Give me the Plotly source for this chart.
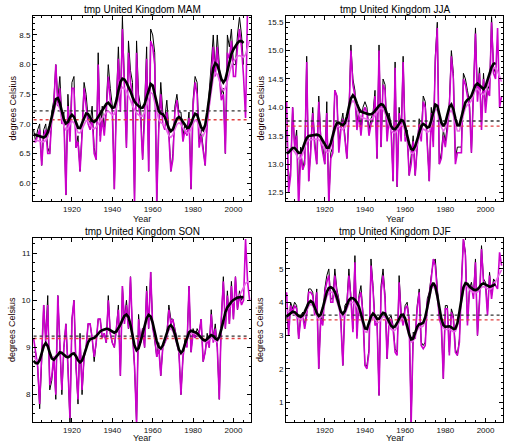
import plotly.graph_objects as go
import numpy as np

# years of the two series
years_black = list(range(1901, 2006))
years_magenta = list(range(1901, 2009))

seasons = ["MAM", "JJA", "SON", "DJF"]

mam_black = [6.9, 6.7, 6.9, 7.0, 6.3, 6.9, 7.0, 6.6, 6.5, 7.2,
             7.4, 8.0, 7.4, 7.8, 7.1, 7.2, 5.8, 7.5, 6.8, 7.7,
             7.8, 6.6, 6.8, 6.2, 6.9, 7.7, 7.5, 7.1, 7.0, 7.3,
             6.6, 6.4, 8.2, 6.8, 7.3, 6.9, 7.3, 8.0, 7.6, 7.3,
             5.9, 7.4, 8.3, 7.3, 8.8, 7.7, 6.6, 8.4, 7.9, 7.7,
             5.7, 8.4, 7.5, 7.3, 6.4, 7.3, 8.3, 6.2, 8.6, 8.5,
             8.2, 5.7, 7.0, 7.7, 7.2, 7.1, 7.4, 6.9, 6.2, 6.5,
             7.3, 7.5, 7.2, 7.2, 6.8, 7.0, 6.9, 7.2, 5.9, 7.4,
             7.8, 7.7, 6.7, 6.9, 6.6, 6.3, 7.1, 7.5, 8.0, 8.5,
             7.9, 8.5, 8.0, 7.5, 7.6, 6.5, 8.5, 8.3, 8.6, 8.0,
             8.0, 8.5, 8.8, 8.5, 8.0]
mam_magenta = [6.7, 6.7, 6.8, 6.9, 6.3, 6.8, 6.9, 6.5, 6.5, 7.1,
               7.3, 8.0, 7.3, 7.6, 7.0, 7.1, 5.8, 7.3, 6.7, 7.6,
               7.6, 6.6, 6.7, 6.2, 6.8, 7.6, 7.3, 7.0, 6.9, 7.1,
               6.5, 6.4, 8.0, 6.7, 7.1, 6.8, 7.2, 7.8, 7.4, 7.2,
               5.9, 7.3, 8.1, 7.2, 8.6, 7.5, 6.6, 8.2, 7.7, 7.5,
               5.7, 8.2, 7.3, 7.1, 6.4, 7.1, 8.1, 6.2, 8.4, 8.3,
               8.0, 5.7, 6.9, 7.5, 7.0, 6.9, 7.2, 6.8, 6.2, 6.4,
               7.2, 7.4, 7.1, 7.1, 6.7, 6.9, 6.8, 7.1, 5.9, 7.3,
               7.7, 7.5, 6.6, 6.8, 6.5, 6.3, 7.0, 7.3, 7.8, 8.3,
               7.8, 8.3, 7.8, 7.4, 7.5, 6.5, 8.2, 8.1, 8.4, 7.8,
               7.8, 8.3, 8.6, 8.3, 7.8, 7.1, 9.0, 8.9]

jja_black = [13.6, 12.6, 12.9, 14.0, 13.3, 13.6, 12.5, 13.3, 12.9, 13.1,
             14.9, 12.7, 13.3, 14.0, 13.4, 13.0, 14.2, 13.5, 13.3, 13.0,
             14.1, 12.3, 13.2, 13.3, 14.3, 14.2, 13.3, 13.7, 13.9, 13.5,
             13.1, 13.9, 15.1, 14.5, 14.3, 13.7, 14.0, 13.6, 14.0, 14.1,
             14.0, 13.6, 13.8, 13.9, 14.3, 13.1, 15.1, 13.3, 14.5, 14.4,
             13.5, 13.9, 13.7, 12.7, 14.8, 12.6, 14.0, 13.5, 14.9, 13.5,
             13.6, 12.8, 13.1, 13.5, 12.8, 13.4, 13.8, 13.5, 14.2, 14.1,
             13.4, 12.7, 14.0, 13.4, 14.9, 15.5, 13.0, 13.2, 13.6, 13.4,
             13.7, 14.1, 15.0, 14.6, 13.1, 13.3, 13.3, 13.3, 14.6, 14.5,
             14.3, 14.1, 13.2, 14.4, 15.4, 14.2, 14.7, 13.7, 14.6, 14.0,
             14.4, 14.3, 15.6, 14.7, 14.6]
jja_magenta = [14.1, 12.5, 12.8, 14.0, 13.3, 13.5, 12.2, 13.2, 12.9, 13.0,
               14.8, 12.7, 13.2, 13.9, 13.3, 13.0, 14.1, 13.4, 13.2, 13.0,
               13.9, 12.3, 13.1, 13.2, 14.3, 14.2, 13.2, 13.6, 13.8, 13.4,
               13.1, 13.8, 15.0, 14.4, 14.2, 13.6, 13.9, 13.5, 13.9, 14.0,
               13.9, 13.5, 13.7, 13.8, 14.2, 13.1, 15.0, 13.3, 14.4, 14.3,
               13.4, 13.8, 13.6, 12.7, 14.7, 12.6, 13.9, 13.4, 14.8, 13.4,
               13.5, 12.8, 13.0, 13.4, 12.8, 13.3, 13.7, 13.4, 14.1, 14.0,
               13.3, 12.7, 13.9, 13.3, 14.8, 15.4, 13.0, 13.1, 13.5, 13.3,
               13.6, 14.0, 14.9, 14.5, 13.0, 13.2, 13.2, 13.2, 14.5, 14.4,
               14.2, 14.0, 13.2, 14.3, 15.3, 14.1, 14.6, 13.6, 14.5, 13.9,
               14.3, 14.2, 15.5, 14.6, 14.5, 15.4, 14.0, 14.2]

son_black = [8.9, 8.9, 8.6, 7.7, 8.7, 9.9, 9.2, 10.1, 8.1, 8.3,
             8.8, 7.9, 10.1, 9.2, 8.0, 9.0, 9.5, 8.6, 7.4, 9.6,
             10.0, 8.6, 7.8, 9.3, 8.0, 8.8, 9.0, 9.5, 9.5, 9.2,
             8.7, 9.1, 9.6, 9.6, 9.2, 9.3, 9.1, 10.1, 9.3, 9.1,
             9.0, 9.4, 9.9, 8.4, 10.3, 9.6, 10.0, 9.4, 10.5, 9.3,
             8.6, 7.4, 9.7, 9.1, 9.4, 9.0, 10.3, 9.4, 10.6, 9.5,
             9.2, 8.8, 9.1, 8.4, 9.0, 9.1, 9.3, 9.9, 9.6, 9.6,
             9.4, 9.2, 8.9, 8.0, 8.8, 9.2, 9.1, 10.3, 8.9, 9.4,
             9.2, 9.4, 9.3, 9.6, 8.7, 8.9, 9.3, 9.0, 9.8, 9.2,
             9.5, 9.0, 7.9, 9.6, 10.5, 9.4, 10.2, 9.5, 10.4, 9.6,
             10.5, 9.8, 10.2, 10.0, 10.1]
son_magenta = [9.2, 8.9, 8.6, 7.8, 8.7, 9.9, 9.1, 9.9, 8.2, 8.4,
               8.8, 8.0, 10.1, 9.1, 8.1, 9.0, 9.5, 8.6, 7.5, 9.6,
               10.0, 8.6, 7.9, 9.2, 8.1, 8.8, 9.0, 9.5, 9.5, 9.2,
               8.8, 9.1, 9.6, 9.6, 9.2, 9.3, 9.1, 10.0, 9.3, 9.1,
               9.0, 9.4, 9.8, 8.4, 10.3, 9.5, 9.9, 9.4, 10.5, 9.3,
               8.6, 7.4, 9.6, 9.1, 9.4, 9.0, 10.2, 9.4, 10.6, 9.4,
               9.2, 8.8, 9.0, 8.4, 9.0, 9.1, 9.2, 9.8, 9.5, 9.6,
               9.3, 9.1, 8.9, 8.0, 8.8, 9.1, 9.0, 10.3, 8.9, 9.3,
               9.2, 9.3, 9.3, 9.6, 8.7, 8.9, 9.2, 9.0, 9.7, 9.1,
               9.4, 9.0, 7.9, 9.6, 10.4, 9.4, 10.1, 9.5, 10.3, 9.6,
               10.5, 9.8, 10.1, 9.9, 10.0, 11.3, 10.4, 10.0]

djf_black = [3.6, 3.1, 4.0, 3.8, 4.0, 3.9, 2.9, 3.6, 3.7, 3.3,
             3.7, 4.4, 4.4, 4.3, 3.7, 4.4, 2.0, 3.6, 3.4, 4.4,
             4.8, 5.0, 4.1, 4.1, 5.0, 4.4, 4.1, 3.5, 2.1, 3.9,
             4.0, 5.0, 4.2, 3.2, 5.4, 3.0, 4.2, 4.5, 3.7, 2.1,
             2.1, 2.6, 5.3, 4.5, 3.4, 3.5, 1.2, 4.5, 5.0, 4.2,
             2.3, 3.5, 3.6, 3.3, 2.6, 2.5, 4.8, 3.7, 3.4, 3.9,
             4.0, 3.5, 0.4, 3.1, 3.0, 3.9, 4.4, 2.8, 2.7, 2.8,
             4.1, 4.3, 4.8, 5.2, 5.3, 4.3, 3.6, 3.4, 1.7, 3.9,
             3.9, 2.5, 3.8, 3.6, 2.6, 2.4, 2.9, 4.6, 5.9, 5.5,
             3.4, 4.4, 4.6, 4.2, 5.3, 3.0, 4.1, 5.7, 4.7, 4.6,
             3.7, 4.9, 4.2, 4.7, 4.6]
djf_magenta = [4.3, 3.0, 3.9, 3.7, 3.9, 3.8, 2.9, 3.5, 3.6, 3.2,
               3.6, 4.3, 4.3, 4.2, 3.6, 4.3, 2.0, 3.5, 3.3, 4.3,
               4.6, 4.8, 4.0, 4.0, 4.8, 4.3, 4.0, 3.4, 2.1, 3.8,
               3.9, 4.8, 4.1, 3.1, 5.2, 2.9, 4.1, 4.3, 3.6, 2.1,
               2.0, 2.5, 5.1, 4.4, 3.3, 3.4, 1.2, 4.3, 4.8, 4.1,
               2.3, 3.4, 3.5, 3.2, 2.5, 2.4, 4.6, 3.6, 3.3, 3.8,
               3.9, 3.4, 0.4, 3.0, 2.9, 3.8, 4.3, 2.7, 2.6, 2.7,
               4.0, 4.2, 4.7, 5.3, 5.1, 4.2, 3.5, 3.3, 1.7, 3.8,
               3.8, 2.4, 3.7, 3.5, 2.5, 2.4, 2.8, 4.5, 5.9, 5.4,
               3.3, 4.3, 4.5, 4.1, 5.2, 3.0, 4.0, 5.6, 4.6, 4.5,
               3.6, 4.8, 4.1, 4.6, 4.5, 4.4, 5.5, 5.1]

# long-term means shown as dotted lines (black series, magenta series)
means_black = [7.22, 13.76, 9.24, 3.61]
means_magenta = [7.07, 13.67, 9.19, 3.47]

y_ranges = [[5.70, 8.82], [12.35, 15.61], [7.42, 11.32], [0.40, 5.93]]
y_dticks = [0.5, 0.5, 1, 1]
y_formats = [".1f", ".1f", "d", "d"]
y_minor = [0.1, 0.1, 0.2, 0.2]

black_data = [mam_black, jja_black, son_black, djf_black]
magenta_data = [mam_magenta, jja_magenta, son_magenta, djf_magenta]


def smooth(v, sigma=2.0):
    v = np.asarray(v, float)
    n = len(v)
    k = np.arange(-8, 9)
    w = np.exp(-0.5 * (k / sigma) ** 2)
    out = np.empty(n)
    for i in range(n):
        idx = i + k
        m = (idx >= 0) & (idx < n)
        out[i] = np.sum(w[m] * v[idx[m]]) / np.sum(w[m])
    return out


W, H = 518, 442
x_doms = [[33 / W, 251 / W], [286 / W, 503 / W]]
y_doms = [[1 - 201 / H, 1 - 16 / H], [1 - 422 / H, 1 - 238 / H]]

MAG = "#cc00cc"
MAG_LIGHT = "#e866e8"
font = "Liberation Sans, Arial, sans-serif"

fig = go.Figure()
layout = dict(width=W, height=H, margin=dict(l=0, r=0, t=0, b=0),
              paper_bgcolor="white", plot_bgcolor="white", showlegend=False,
              annotations=[])

for i, s in enumerate(seasons):
    xa = "x" if i == 0 else "x%d" % (i + 1)
    ya = "y" if i == 0 else "y%d" % (i + 1)
    xd = x_doms[i % 2]
    yd = y_doms[i // 2]
    x0, x1 = years_magenta[0], years_magenta[-1]

    fig.add_trace(go.Scatter(x=years_black, y=black_data[i], mode="lines",
                             line=dict(color="black", width=1), xaxis=xa, yaxis=ya))
    fig.add_trace(go.Scatter(x=years_magenta, y=magenta_data[i], mode="lines",
                             line=dict(color=MAG, width=1.6), xaxis=xa, yaxis=ya))
    fig.add_trace(go.Scatter(x=[x0, x1], y=[means_black[i]] * 2, mode="lines",
                             line=dict(color="#333333", width=1.3, dash="dot"),
                             xaxis=xa, yaxis=ya))
    fig.add_trace(go.Scatter(x=[x0, x1], y=[means_magenta[i]] * 2, mode="lines",
                             line=dict(color="#e04040", width=1.3, dash="dot"),
                             xaxis=xa, yaxis=ya))
    fig.add_trace(go.Scatter(x=years_magenta, y=smooth(magenta_data[i]), mode="lines",
                             line=dict(color=MAG_LIGHT, width=1.6), xaxis=xa, yaxis=ya))
    fig.add_trace(go.Scatter(x=years_black, y=smooth(black_data[i]), mode="lines",
                             line=dict(color="black", width=2.6), xaxis=xa, yaxis=ya))

    axis_common = dict(showline=True, linecolor="black", linewidth=1, mirror="ticks",
                       ticks="inside", ticklen=4, tickcolor="black", showgrid=False,
                       zeroline=False,
                       tickfont=dict(family=font, size=8, color="#111111"))
    layout["xaxis" if i == 0 else "xaxis%d" % (i + 1)] = dict(
        axis_common, domain=xd, anchor=ya, range=[1900.7, 2008.7],
        tick0=1920, dtick=20, minor=dict(dtick=5, ticklen=2, ticks="inside"))
    layout["yaxis" if i == 0 else "yaxis%d" % (i + 1)] = dict(
        axis_common, domain=yd, anchor=xa, range=y_ranges[i],
        dtick=y_dticks[i], tickformat=y_formats[i],
        minor=dict(dtick=y_minor[i], ticklen=2, ticks="inside"))

    xc = (xd[0] + xd[1]) / 2
    year_gap = 11 if i < 2 else 9
    layout["annotations"].append(dict(
        text="tmp United Kingdom " + s, x=xc, y=yd[1] - 1 / H, xref="paper", yref="paper",
        xanchor="center", yanchor="bottom", showarrow=False,
        font=dict(family=font, size=10, color="black")))
    layout["annotations"].append(dict(
        text="Year", x=xc, y=yd[0] - year_gap / H, xref="paper", yref="paper",
        xanchor="center", yanchor="top", showarrow=False,
        font=dict(family=font, size=9, color="#111111")))
    layout["annotations"].append(dict(
        text="degrees Celsius", x=xd[0] - (21 if i % 2 == 0 else 26) / W,
        y=(yd[0] + yd[1]) / 2, xref="paper", yref="paper", textangle=-90,
        xanchor="center", yanchor="middle", showarrow=False,
        font=dict(family=font, size=9, color="#220000")))

fig.update_layout(**layout)
fig.write_html("out.html", config={"displayModeBar": False},
               post_script="document.body.style.margin='0';")
